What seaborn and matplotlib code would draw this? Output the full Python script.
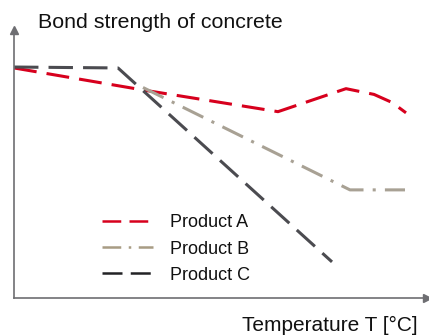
import pandas as pd
import matplotlib
matplotlib.use("Agg")
import matplotlib.pyplot as plt
import seaborn as sns

# Relative temperature / bond strength (no ticks in the original, arbitrary units)
temp_a = [0, 32, 66, 83, 90, 94.5, 98]
bond_a = [100, 90.5, 81, 91, 88.5, 85, 80.5]

temp_b = [32.25, 84, 97.75]
bond_b = [91.5, 47, 47]

temp_c = [0, 26, 79.5]
bond_c = [100.4, 100, 15.7]

products = ["Product A", "Product B", "Product C"]
colors = ["#d7001d", "#a8a194", "#4b4b50"]
legend_colors = ["#d7001d", "#a89c84", "#222225"]


def build_frame():
    """
    Long-form table for seaborn.
    """
    parts = []
    for name, t, b in zip(products, [temp_a, temp_b, temp_c], [bond_a, bond_b, bond_c]):
        parts.append(pd.DataFrame({"T": t, "bond": b, "product": name}))
    return pd.concat(parts, ignore_index=True)


def main():
    sns.set_style("white")
    plt.rcParams["font.family"] = ["Liberation Sans", "DejaVu Sans"]

    data = build_frame()

    fig = plt.figure(figsize=(4.29, 3.35), dpi=100)
    ax = fig.add_axes([14 / 429, 1 - 298 / 335, (427 - 14) / 429, (298 - 30) / 335])

    dashes = {
        "Product A": (7.5, 3.3),
        "Product B": (7.5, 3, 1, 3),
        "Product C": (8, 3.3),
    }
    sns.lineplot(data=data, x="T", y="bond", hue="product", style="product",
                 palette=dict(zip(products, colors)), dashes=dashes,
                 linewidth=2.2, sort=False, estimator=None, ax=ax)

    ax.set_xlim(0, 103.25)
    ax.set_ylim(0, 116.5)
    ax.set_xticks([])
    ax.set_yticks([])
    ax.set_xlabel("")
    ax.set_ylabel("")

    axis_color = "#6e6e72"
    for side in ["top", "right"]:
        ax.spines[side].set_visible(False)
    for side in ["left", "bottom"]:
        ax.spines[side].set_color(axis_color)
        ax.spines[side].set_linewidth(1.2)

    # arrow heads on the axes
    ax.plot(1, 0, ">", color=axis_color, markersize=6, transform=ax.transAxes, clip_on=False)
    ax.plot(0, 1, "^", color=axis_color, markersize=6, transform=ax.transAxes, clip_on=False)

    leg = ax.legend(loc="center left", bbox_to_anchor=((102 - 14) / 413, (298 - 249) / 268),
                    frameon=False, fontsize=13, handlelength=2.85, handletextpad=0.9,
                    labelspacing=0.5, borderpad=0, borderaxespad=0)
    for line, c in zip(leg.get_lines(), legend_colors):
        line.set_linewidth(1.8)
        line.set_color(c)
    for txt in leg.get_texts():
        txt.set_color("#111111")

    fig.text(38 / 429, 1 - 23 / 335, "Bond strength of concrete", fontsize=15.4,
             ha="left", va="center", color="#111111")
    fig.text(418 / 429, 1 - 325 / 335, "Temperature T [°C]", fontsize=15,
             ha="right", va="center", color="#111111")

    fig.savefig("out.png", dpi=100)


if __name__ == "__main__":
    main()
